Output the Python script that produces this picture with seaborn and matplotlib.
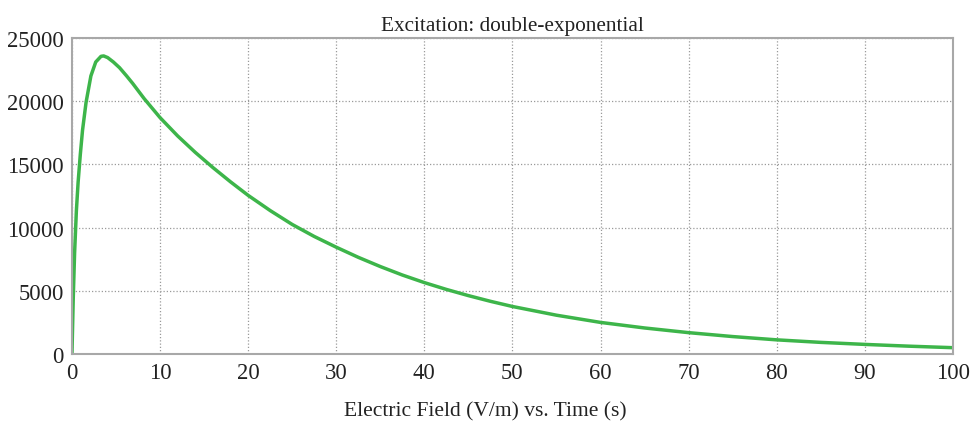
import matplotlib
matplotlib.use("Agg")
import matplotlib.pyplot as plt
import seaborn as sns
import pandas as pd

# Double-exponential excitation pulse, field strength over time
time_s = [0, 0.15, 0.3, 0.5, 0.7, 0.95, 1.2, 1.6, 2.15, 2.7, 3.3, 3.6, 4.05,
          4.7, 5.4, 6.2, 6.9, 8.2, 10, 12, 14, 16, 18, 20, 22.5, 25, 27.5,
          30, 32.5, 35, 37.5, 40, 42.5, 45, 47.5, 50, 55, 60, 65, 70, 75,
          80, 85, 90, 95, 100]
field_vm = [0, 4500, 8000, 11300, 13600, 15800, 17700, 19900, 22000, 23100,
            23550, 23580, 23450, 23100, 22650, 22000, 21400, 20200, 18700,
            17250, 15950, 14750, 13620, 12550, 11350, 10250, 9300, 8450,
            7650, 6920, 6250, 5650, 5110, 4620, 4170, 3760, 3070, 2500, 2060,
            1690, 1380, 1120, 920, 760, 620, 500]

df = pd.DataFrame({"time": time_s, "field": field_vm})

sns.set_style("whitegrid")
plt.rcParams["font.family"] = ["Liberation Serif", "DejaVu Serif"]

fig = plt.figure(figsize=(9.75, 4.27), dpi=100)
ax = fig.add_axes([0.0738, 0.1686, 0.9035, 0.7401])

sns.lineplot(data=df, x="time", y="field", ax=ax, color="#3db54a",
             linewidth=2.5, estimator=None, solid_joinstyle="round")

ax.set_xlim(0, 100)
ax.set_ylim(0, 25000)
ax.set_xticks(range(0, 101, 10))
ax.set_yticks(range(0, 25001, 5000))

ax.grid(True, linestyle=(0, (1.0, 1.6)), color="#9a9a9a", linewidth=0.9)
for side in ["left", "right", "top", "bottom"]:
    ax.spines[side].set_visible(True)
    ax.spines[side].set_color("#a8a8a8")
    ax.spines[side].set_linewidth(1.5)

ax.tick_params(axis="both", labelsize=16.3, colors="#a8a8a8", labelcolor="#222222",
               length=4, width=1, pad=2)

ax.set_title("Excitation: double-exponential", fontsize=15.3, color="#222222", pad=6)
ax.set_xlabel("Electric Field (V/m) vs. Time (s)", fontsize=15.5, color="#222222",
              labelpad=12)
ax.xaxis.set_label_coords(0.469, -0.15)
ax.set_ylabel("")

fig.savefig("out.png", dpi=100, facecolor="white")
